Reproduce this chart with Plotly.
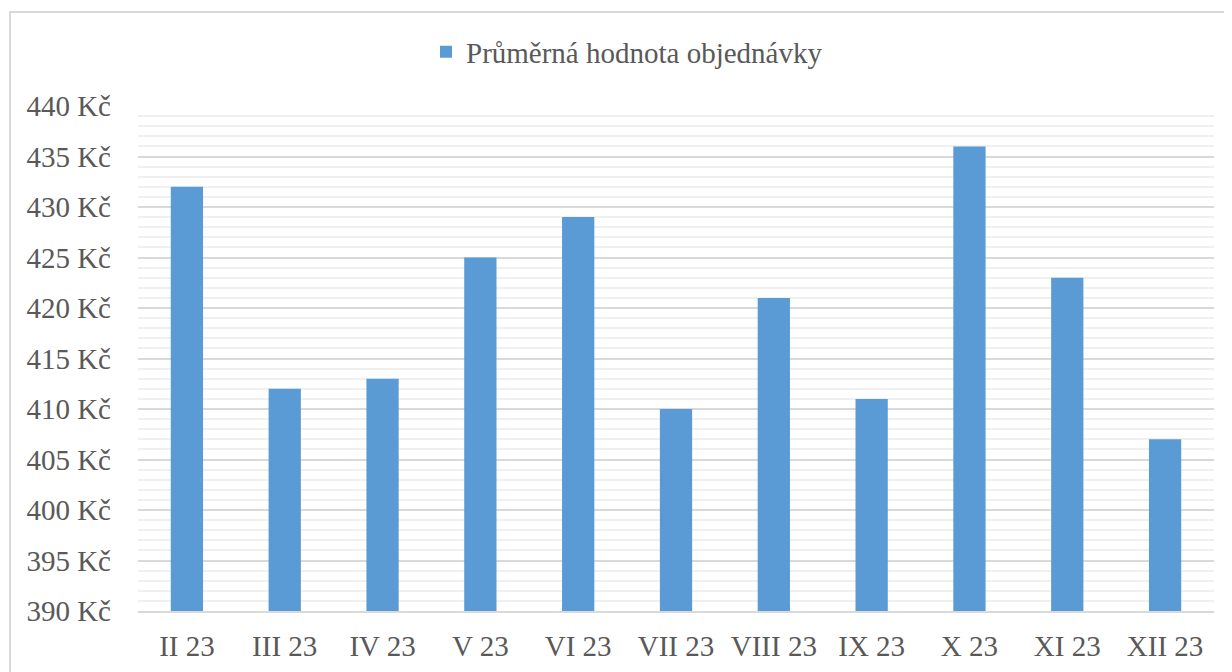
import plotly.graph_objects as go

categories = ["II 23", "III 23", "IV 23", "V 23", "VI 23", "VII 23", "VIII 23",
              "IX 23", "X 23", "XI 23", "XII 23"]
values = [432, 412, 413, 425, 429, 410, 421, 411, 436, 423, 407]
series_name = "Průměrná hodnota objednávky"

# page body has an 8px margin, so the figure is laid out 8px smaller/offset
OFF = 8
W, H = 1232 - OFF, 672 - OFF
L, R, T, B = 138 - OFF, 18, 106 - OFF, 61
pw, ph = W - L - R, H - T - B

fig = go.Figure()
fig.add_trace(go.Bar(
    x=categories, y=values, name=series_name,
    marker=dict(color="#5B9BD5", line=dict(width=0)),
    width=0.33,
))

font = dict(family="Liberation Serif, Times New Roman, serif", size=29, color="#595959")

fig.update_layout(
    width=W, height=H,
    margin=dict(l=L, r=R, t=T, b=B, autoexpand=False),
    paper_bgcolor="white", plot_bgcolor="white",
    font=font,
    showlegend=True,
    legend=dict(orientation="h", x=(627 - 138) / pw, y=(611 - 52) / ph,
                xanchor="center", yanchor="middle", font=font,
                bgcolor="rgba(0,0,0,0)"),
    xaxis=dict(showgrid=False, showline=True, linecolor="#d9d9d9", linewidth=2,
               ticks="", tickfont=font, ticklabelstandoff=8, automargin=False),
    yaxis=dict(range=[390, 440], dtick=5, tick0=390, ticksuffix=" Kč",
               showgrid=True, gridcolor="#d9d9d9", gridwidth=1.5,
               zeroline=False, showline=False, ticks="", tickfont=font,
               ticklabelstandoff=26, automargin=False,
               minor=dict(dtick=1, showgrid=True, gridcolor="#f0f0f0", gridwidth=1.5)),
    shapes=[dict(type="rect", xref="paper", yref="paper",
                 x0=(10 - 138) / pw, x1=(1231 - 138) / pw,
                 y0=(611 - 700) / ph, y1=(611 - 12) / ph,
                 line=dict(color="#d9d9d9", width=2), fillcolor="rgba(0,0,0,0)",
                 layer="below")],
)

fig.write_html("out.html")
